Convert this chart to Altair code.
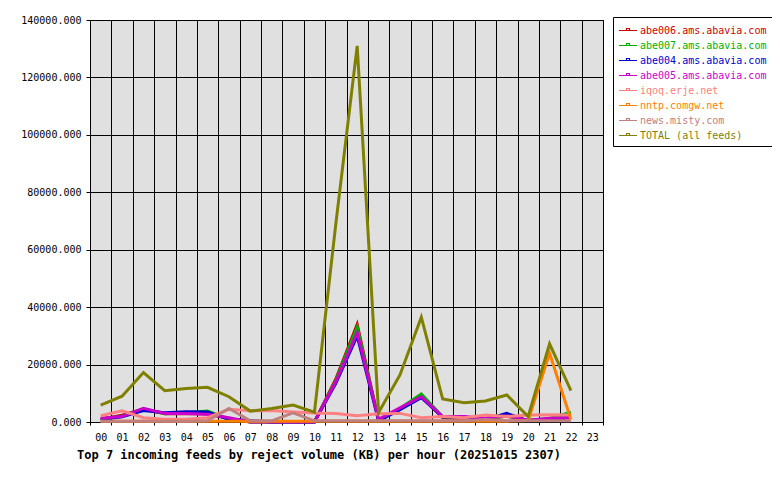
import altair as alt
import pandas as pd

hours = [f"{h:02d}" for h in range(24)]
feeds = [
    "abe006.ams.abavia.com",
    "abe007.ams.abavia.com",
    "abe004.ams.abavia.com",
    "abe005.ams.abavia.com",
    "iqoq.erje.net",
    "nntp.comgw.net",
    "news.misty.com",
    "TOTAL (all feeds)",
]
colors = ["#cc0000", "#00b000", "#0000cc", "#cc00cc", "#ff8080", "#ff8000", "#c08080", "#808000"]

# KB per hour, hours 00..22 (no data for 23)
abe006 = [1000, 2400, 4500, 2900, 3000, 2800, 1200, 0, 0, 0, 0, 15000, 34000, 600, 4500, 9000, 1500, 1200, 1200, 2000, 600, 1000, 1500]
abe007 = [1000, 2000, 4600, 2900, 3200, 3800, 1000, 0, 0, 0, 0, 14500, 33000, 500, 4700, 9800, 1800, 1600, 1000, 2200, 500, 1200, 3400]
abe004 = [900, 1800, 4000, 3200, 3600, 3500, 900, 500, 0, 0, 0, 13500, 30000, 300, 4300, 8500, 1700, 1700, 900, 3000, 400, 900, 1700]
abe005 = [1300, 1900, 4800, 3000, 3000, 2700, 1500, 0, 0, 0, 0, 14000, 31000, 900, 4900, 8800, 1900, 1900, 1300, 2200, 600, 1300, 1600]
iqoq = [2200, 3900, 1500, 1000, 1000, 1500, 4400, 3900, 4000, 3500, 3100, 3000, 2200, 2900, 3000, 1500, 1900, 1500, 2400, 1900, 2400, 2500, 2400]
nntp = [300, 300, 300, 300, 300, 300, 300, 300, 300, 300, 300, 300, 300, 300, 300, 300, 300, 300, 300, 300, 500, 24000, 900]
misty = [300, 300, 300, 300, 300, 400, 4700, 400, 400, 3200, 400, 400, 400, 400, 400, 400, 400, 400, 900, 400, 400, 400, 400]
total = [5900, 9000, 17200, 10900, 11700, 12100, 8800, 3800, 4700, 5900, 3400, 69000, 131000, 3300, 16400, 36500, 8000, 6700, 7300, 9400, 1900, 27200, 10900]

series_values = [abe006, abe007, abe004, abe005, iqoq, nntp, misty, total]

rows = []
for feed, vals in zip(feeds, series_values):
    for h, v in zip(hours, vals):
        rows.append({"hour": h, "feed": feed, "kb": v})
df = pd.DataFrame(rows)

font = "DejaVu Sans Mono"
# legend glyph: a short line with a small square bump in its middle
sym = "M-1,0L1.4,0M0,0L0,-0.27L0.4,-0.27L0.4,0"

chart = alt.Chart(df).mark_line(strokeWidth=3).encode(
    x=alt.X(
        "hour:O",
        scale=alt.Scale(type="band", domain=hours, paddingInner=0, paddingOuter=0),
        axis=alt.Axis(
            title=None, tickBand="extent", grid=True, labelAngle=0,
            tickSize=3, labelPadding=7,
        ),
    ),
    y=alt.Y(
        "kb:Q",
        scale=alt.Scale(domain=[0, 140000]),
        axis=alt.Axis(
            title=None, values=list(range(0, 140001, 20000)), format=".3f",
            tickSize=4, labelPadding=5,
        ),
    ),
    color=alt.Color(
        "feed:N",
        scale=alt.Scale(domain=feeds, range=colors),
        legend=alt.Legend(
            title=None, orient="none", legendX=523, legendY=-3,
            labelFont=font, labelFontSize=10,
            labelColor=alt.ExprRef("scale('color', datum.value)"),
            symbolType=sym, symbolSize=225, symbolStrokeWidth=1.2,
            symbolFillColor="transparent",
            strokeColor="black", fillColor="white", padding=5,
            rowPadding=1, labelOffset=5,
        ),
    ),
).properties(
    width=513,
    height=402,
    autosize=alt.AutoSizeParams(type="none"),
    padding={"left": 82, "top": 12, "right": 169, "bottom": 45},
    title=alt.TitleParams(
        "Top 7 incoming feeds by reject volume (KB) per hour (20251015 2307)",
        orient="bottom", anchor="start", frame="group", font=font,
        fontSize=12, fontWeight="bold", color="black", dx=-13, offset=8,
    ),
).configure_view(
    fill="#e0e0e0", stroke="black", strokeWidth=1
).configure_axis(
    labelFont=font, labelFontSize=10, labelColor="black",
    tickColor="black", domain=False, gridColor="black",
    gridOpacity=1, gridWidth=1,
)

chart.save("out.html", embed_options={"renderer": "svg", "actions": False})
